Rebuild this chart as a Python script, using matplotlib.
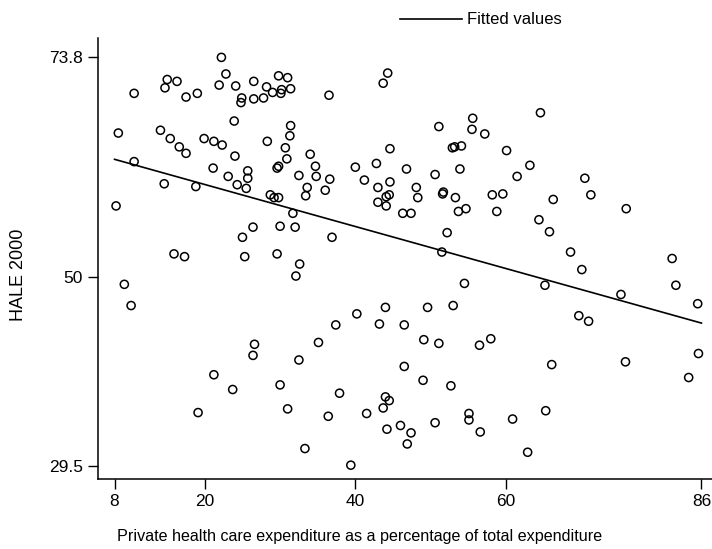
import numpy as np
import matplotlib
matplotlib.use('Agg')
import matplotlib.pyplot as plt

plt.rcParams['font.family'] = ['Liberation Sans', 'DejaVu Sans']

# private health expenditure (% of total) vs HALE 2000
private_exp = [
    22.2, 22.8, 15.0, 16.3, 14.7, 21.9, 24.1, 26.5, 29.8, 31.0,
    28.2, 29.0, 30.2, 30.1, 31.4, 10.6, 17.5, 19.0, 24.9, 24.8,
    26.5, 27.8, 23.9, 8.5, 14.1, 15.4, 16.6, 17.5, 19.9, 21.2,
    22.3, 24.0, 28.3, 31.4, 31.3, 30.7, 30.9, 29.8, 29.6, 32.5,
    10.6, 21.1, 25.7, 25.7, 23.1, 24.3, 25.5, 14.6, 18.8, 28.7,
    29.2, 29.8,
    44.3, 43.7, 36.5, 51.1, 55.6, 55.5, 57.2, 44.6, 52.9, 53.2,
    54.1, 34.0, 34.7, 34.8, 33.6, 33.4, 36.0, 36.6, 40.0, 41.2,
    42.8, 43.0, 44.6, 46.8, 48.1, 48.3, 50.6, 53.9, 51.7, 51.6,
    53.3, 58.2, 43.0, 44.1, 44.5, 44.1,
    64.6, 60.1, 63.2, 61.5, 70.5, 59.6, 66.3, 71.3,
    8.2, 31.7, 26.4, 25.0, 30.0, 32.0, 15.9, 17.3, 25.3, 29.6,
    32.6, 32.1, 9.3, 10.2, 26.6,
    58.8, 53.7, 54.7, 46.3, 47.4, 36.9, 52.2, 51.5, 54.5, 44.0,
    49.6, 53.0, 40.2, 37.4, 43.2, 46.5, 35.1, 49.1, 51.1, 56.5,
    58.0,
    76.0, 64.4, 65.8, 68.6, 70.1, 82.1, 65.2, 75.3, 82.6, 85.5,
    69.7, 71.0, 85.6,
    26.4, 21.2, 23.7, 19.1, 30.0, 31.0, 32.5,
    46.5, 49.0, 52.7, 37.9, 36.4, 41.5, 44.0, 44.5, 43.7, 44.2,
    46.0, 47.4, 46.9, 50.6, 55.1, 55.1, 56.6, 33.3, 39.4,
    66.1, 75.9, 84.3, 60.9, 65.3, 62.9,
]
hale = [
    73.8, 72.0, 71.4, 71.2, 70.5, 70.8, 70.7, 71.2, 71.8, 71.6,
    70.6, 70.0, 70.3, 69.9, 70.4, 69.9, 69.5, 69.9, 69.4, 68.9,
    69.3, 69.4, 66.9, 65.6, 65.9, 65.0, 64.1, 63.4, 65.0, 64.7,
    64.3, 63.1, 64.7, 66.4, 65.3, 64.0, 62.8, 62.0, 61.8, 61.0,
    62.5, 61.8, 61.5, 60.7, 60.9, 60.0, 59.6, 60.1, 59.8, 58.9,
    58.6, 58.6,
    72.1, 71.0, 69.7, 66.3, 67.2, 66.0, 65.5, 63.9, 64.0, 64.1,
    64.2, 63.3, 62.0, 60.9, 59.7, 58.8, 59.4, 60.6, 61.9, 60.5,
    62.3, 59.7, 60.3, 61.7, 59.7, 58.6, 61.1, 61.7, 59.2, 59.0,
    58.6, 58.9, 58.1, 58.7, 58.9, 57.7,
    67.8, 63.7, 62.1, 60.9, 60.7, 59.0, 58.4, 58.9,
    57.7, 56.9, 55.4, 54.3, 55.5, 55.4, 52.5, 52.2, 52.2, 52.5,
    51.4, 50.1, 49.2, 46.9, 42.7,
    57.1, 57.1, 57.4, 56.9, 56.9, 54.3, 54.8, 52.7, 49.3, 46.7,
    46.7, 46.9, 46.0, 44.8, 44.9, 44.8, 42.9, 43.2, 42.8, 42.6,
    43.3,
    57.4, 56.2, 54.9, 52.7, 50.8, 52.0, 49.1, 48.1, 49.1, 47.1,
    45.8, 45.2, 41.7,
    41.5, 39.4, 37.8, 35.3, 38.3, 35.7, 41.0,
    40.3, 38.8, 38.2, 37.4, 34.9, 35.2, 37.0, 36.6, 35.8, 33.5,
    33.9, 33.1, 31.9, 34.2, 35.2, 34.5, 33.2, 31.4, 29.6,
    40.5, 40.8, 39.1, 34.6, 35.5, 31.0,
]

# fitted values line, read at the ends
fit_x = [8, 86]
fit_y = [62.75, 45.0]

x_ticks = [8, 20, 40, 60, 86]
y_ticks = [29.5, 50, 73.8]

fig = plt.figure(figsize=(7.12, 5.49), dpi=100)
ax = fig.add_axes([98/712, 1 - 479/549, 1 - 98/712, (479 - 38)/549])

ax.scatter(private_exp, hale, s=34, facecolors='none', edgecolors='black',
           linewidths=1.1, zorder=3)
ax.plot(fit_x, fit_y, color='black', lw=1.2, label='Fitted values', zorder=2)

ax.set_xlim(5.8, 87.4)
ax.set_ylim(28.1, 75.9)
ax.set_xticks(x_ticks)
ax.set_xticklabels([str(t) for t in x_ticks])
ax.set_yticks(y_ticks)
ax.set_yticklabels(['29.5', '50', '73.8'])
ax.tick_params(direction='out', length=7, width=1, labelsize=12.5, colors='black', pad=4)

for side in ['top', 'right']:
    ax.spines[side].set_visible(False)
for side in ['left', 'bottom']:
    ax.spines[side].set_linewidth(1.1)

ax.set_xlabel('Private health care expenditure as a percentage of total expenditure',
              fontsize=11.6)
ax.xaxis.set_label_coords(0.4267, -0.1315)
ax.xaxis.label.set_verticalalignment('center')
ax.set_ylabel('HALE 2000', fontsize=13)
ax.yaxis.set_label_coords(-0.1295, 0.4626)
ax.yaxis.label.set_verticalalignment('center')

fig.legend(loc='center', bbox_to_anchor=(481/712, 1 - 20/549), frameon=False,
           fontsize=12, handlelength=3.7, handletextpad=0.3)

fig.savefig('out.png', dpi=100)
